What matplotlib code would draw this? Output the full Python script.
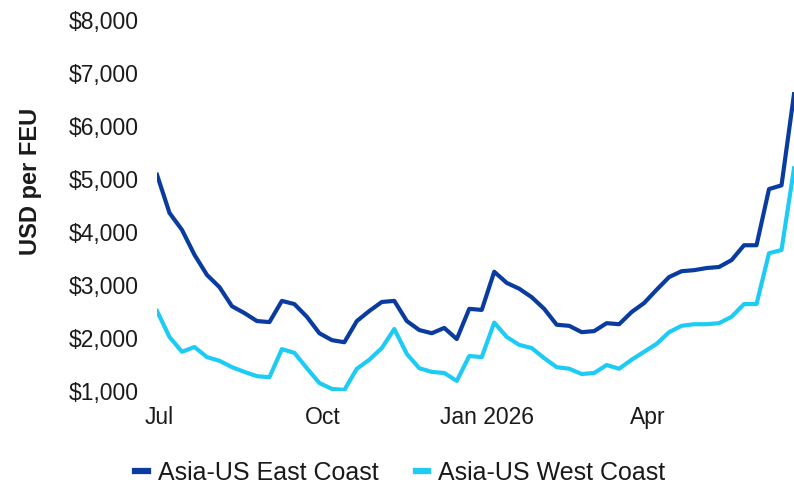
import numpy as np
import pandas as pd
import matplotlib
matplotlib.use("Agg")
import matplotlib.pyplot as plt
from matplotlib.ticker import FuncFormatter

# weekly spot rates, USD per FEU
weeks = pd.date_range("2025-06-30", periods=52, freq="7D")
east_coast = [5080, 4360, 4040, 3570, 3190, 2960, 2600, 2470, 2320, 2300,
              2700, 2640, 2400, 2090, 1960, 1920, 2320, 2510, 2680, 2700,
              2320, 2150, 2090, 2190, 1980, 2550, 2530, 3250, 3040, 2930,
              2770, 2550, 2250, 2230, 2110, 2130, 2280, 2260, 2490, 2660,
              2910, 3150, 3260, 3280, 3320, 3340, 3470, 3750, 3750, 4810,
              4880, 6600]
west_coast = [2510, 2020, 1740, 1830, 1640, 1570, 1450, 1360, 1280, 1260,
              1790, 1720, 1430, 1150, 1040, 1020, 1420, 1590, 1810, 2170,
              1700, 1430, 1360, 1340, 1190, 1660, 1640, 2290, 2020, 1870,
              1810, 1620, 1450, 1420, 1320, 1340, 1490, 1420, 1590, 1740,
              1890, 2110, 2230, 2260, 2260, 2280, 2400, 2640, 2640, 3600,
              3660, 5200]
series_names = ["Asia-US East Coast", "Asia-US West Coast"]
series_colors = ["#0A3CA0", "#1DCBF4"]

month_ticks = pd.to_datetime(["2025-07-01", "2025-10-01", "2026-01-01", "2026-04-01"])
month_labels = ["Jul", "Oct", "Jan 2026", "Apr"]
y_ticks = [1000, 2000, 3000, 4000, 5000, 6000, 7000, 8000]

plt.rcParams["font.family"] = ["Liberation Sans", "DejaVu Sans"]

fig = plt.figure(figsize=(7.94, 4.84), dpi=100)
ax = fig.add_axes([157 / 794, 93 / 484, 637 / 794, 371 / 484])

for vals, name, col in zip([east_coast, west_coast], series_names, series_colors):
    ax.plot(weeks, vals, color=col, lw=3.0, label=name)

ax.set_xlim(weeks[0], weeks[-1])
ax.set_ylim(1000, 8000)
ax.set_yticks(y_ticks)
ax.yaxis.set_major_formatter(FuncFormatter(lambda v, p: f"${v:,.0f}"))
ax.set_xticks(month_ticks)
ax.set_xticklabels(month_labels)
ax.tick_params(axis="y", length=0, pad=13, labelsize=16.5, labelcolor="#1a1a1a")
ax.tick_params(axis="x", length=0, pad=11, labelsize=16.5, labelcolor="#1a1a1a")
for s in ax.spines.values():
    s.set_visible(False)

fig.text(30 / 794, 1 - 181 / 484, "USD per FEU", rotation=90, ha="center",
         va="center", fontsize=17, fontweight="bold", color="#1a1a1a")

leg = fig.legend(loc="center left", bbox_to_anchor=(135 / 794, 1 - 473 / 484),
                 ncol=2, frameon=False, fontsize=18, handlelength=0.5,
                 handletextpad=0.4, columnspacing=1.5, borderpad=0,
                 borderaxespad=0)
for line in leg.get_lines():
    line.set_linewidth(4.5)
for t in leg.get_texts():
    t.set_color("#1a1a1a")

fig.savefig("out.png", dpi=100)
